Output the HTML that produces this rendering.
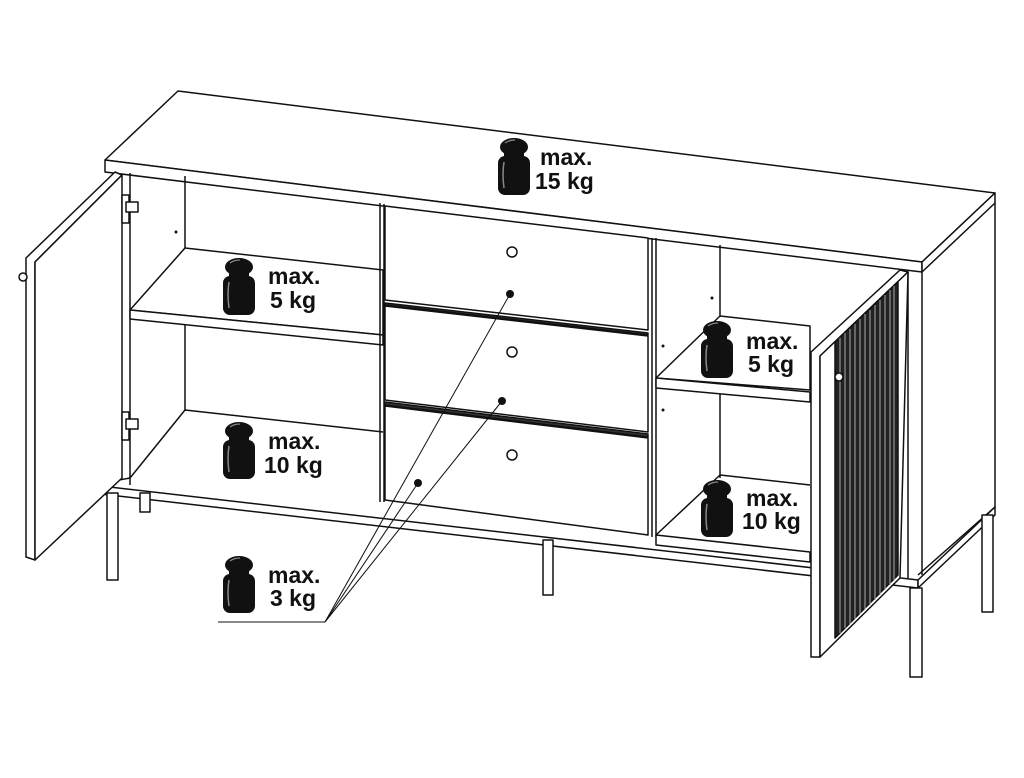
<!DOCTYPE html>
<html><head><meta charset="utf-8"><style>
html,body{margin:0;padding:0;background:#fff}
svg{display:block}
text{font-family:"Liberation Sans",Arial,sans-serif;font-weight:bold;font-size:23px;fill:#111}
</style></head><body>
<svg width="1024" height="778" viewBox="0 0 1024 778" xmlns="http://www.w3.org/2000/svg">
<defs>
<g id="w">
<ellipse cx="17" cy="9" rx="14" ry="9" fill="#111"/>
<rect x="7" y="14" width="20" height="8" fill="#111"/>
<rect x="1" y="18" width="32" height="39" rx="7" fill="#111"/>
<path d="M7 24 Q5 36 7 50" stroke="#888" stroke-width="1.5" fill="none"/>
<path d="M8 5 Q12 2 18 2" stroke="#888" stroke-width="1.2" fill="none"/>
</g>
</defs>
<g fill="none" stroke="#111" stroke-width="1.5" stroke-linejoin="round">
<polygon points="105,160 178,91 995,193 922,262" fill="#fff"/>
<polygon points="105,160 922,262 922,272 105,172" fill="#fff"/>
<polygon points="922,262 995,193 995,203 922,272" fill="#fff"/>
<polyline points="922,272 922,575"/>
<polyline points="995,203 995,507 918,575"/>
<polyline points="908,272 908,578"/>
<polygon points="92,485 918,580 918,588 92,493" fill="#fff"/>
<polygon points="918,580 995,507 995,515 918,588" fill="#fff"/>
<rect x="107" y="493" width="11" height="87" fill="#fff"/>
<rect x="140" y="493" width="10" height="19" fill="#fff"/>
<rect x="543" y="540" width="10" height="55" fill="#fff"/>
<rect x="910" y="588" width="12" height="89" fill="#fff"/>
<rect x="982" y="515" width="11" height="97" fill="#fff"/>
<line x1="130" y1="173" x2="130" y2="485"/>
<line x1="185" y1="176" x2="185" y2="411"/>
<polygon points="130,310 185,248 383,270 383,335" fill="#fff"/>
<polygon points="130,310 383,335 383,345 130,319" fill="#fff"/>
<polyline points="130,478 185,410 383,432"/>
<line x1="92" y1="485" x2="130" y2="478"/>
<line x1="380" y1="203" x2="380" y2="502"/>
<line x1="384" y1="204" x2="384" y2="502"/>
<polygon points="385,206 648,238 648,330 385,300" fill="#fff"/>
<polygon points="385,303 648,333 648,335 385,305" fill="#333"/>
<polygon points="385,306 648,336 648,432 385,400" fill="#fff"/>
<polygon points="385,402 648,434 648,437 385,405" fill="#333"/>
<polygon points="385,406 648,438 648,535 385,500" fill="#fff"/>
<line x1="652" y1="238" x2="652" y2="537"/>
<line x1="656" y1="238" x2="656" y2="537"/>
<circle cx="512" cy="252" r="5"/>
<circle cx="512" cy="352" r="5"/>
<circle cx="512" cy="455" r="5"/>
<line x1="720" y1="245" x2="720" y2="478"/>
<polygon points="656,378 720,316 810,326 810,390" fill="#fff"/>
<polygon points="656,378 810,392 810,402 656,388" fill="#fff"/>
<polyline points="656,535 720,475 810,485"/>
<polygon points="656,535 810,552 810,562 656,545" fill="#fff"/>
<polygon points="811,352 900,270 908,272 820,356 820,657 811,657" fill="#fff"/>
<polygon points="820,356 908,272 900,578 820,657" fill="#fff"/>
<polygon points="835,342 898,282 898,575 835,638" fill="#222"/>
<g stroke="#aaa" stroke-width="1">
<line x1="840" y1="338" x2="840" y2="633"/><line x1="845" y1="333" x2="845" y2="628"/>
<line x1="850" y1="329" x2="850" y2="624"/><line x1="855" y1="324" x2="855" y2="619"/>
<line x1="860" y1="319" x2="860" y2="614"/><line x1="865" y1="314" x2="865" y2="609"/>
<line x1="870" y1="310" x2="870" y2="605"/><line x1="875" y1="305" x2="875" y2="600"/>
<line x1="880" y1="300" x2="880" y2="595"/><line x1="885" y1="295" x2="885" y2="590"/>
<line x1="890" y1="290" x2="890" y2="585"/><line x1="894" y1="286" x2="894" y2="581"/>
</g>
<circle cx="839" cy="377" r="4" fill="#fff"/>
<polygon points="26,258 115,172 122,175 35,262 35,560 26,557" fill="#fff"/>
<polygon points="35,262 122,175 122,478 35,560" fill="#fff"/>
<circle cx="23" cy="277" r="4" fill="#fff"/>
<rect x="122" y="195" width="7" height="28" fill="#fff"/>
<rect x="126" y="202" width="12" height="10" fill="#fff"/>
<rect x="122" y="412" width="7" height="28" fill="#fff"/>
<rect x="126" y="419" width="12" height="10" fill="#fff"/>
<polyline points="218,622 325,622 510,294" stroke-width="1"/>
<line x1="325" y1="622" x2="502" y2="401" stroke-width="1"/>
<line x1="325" y1="622" x2="418" y2="483" stroke-width="1"/>
</g>
<g fill="#111"><circle cx="510" cy="294" r="4"/><circle cx="502" cy="401" r="4"/><circle cx="418" cy="483" r="4"/>
<circle cx="176" cy="232" r="1.5"/><circle cx="663" cy="346" r="1.5"/><circle cx="663" cy="410" r="1.5"/><circle cx="712" cy="298" r="1.5"/></g>
<use href="#w" x="497" y="138"/>
<text x="540" y="165">max.</text><text x="535" y="189">15 kg</text>
<use href="#w" x="222" y="258"/>
<text x="268" y="284">max.</text><text x="270" y="308">5 kg</text>
<use href="#w" x="222" y="422"/>
<text x="268" y="449">max.</text><text x="264" y="473">10 kg</text>
<use href="#w" x="222" y="556"/>
<text x="268" y="583">max.</text><text x="270" y="606">3 kg</text>
<use href="#w" x="700" y="321"/>
<text x="746" y="349">max.</text><text x="748" y="372">5 kg</text>
<use href="#w" x="700" y="480"/>
<text x="746" y="506">max.</text><text x="742" y="529">10 kg</text>
</svg>
</body></html>
